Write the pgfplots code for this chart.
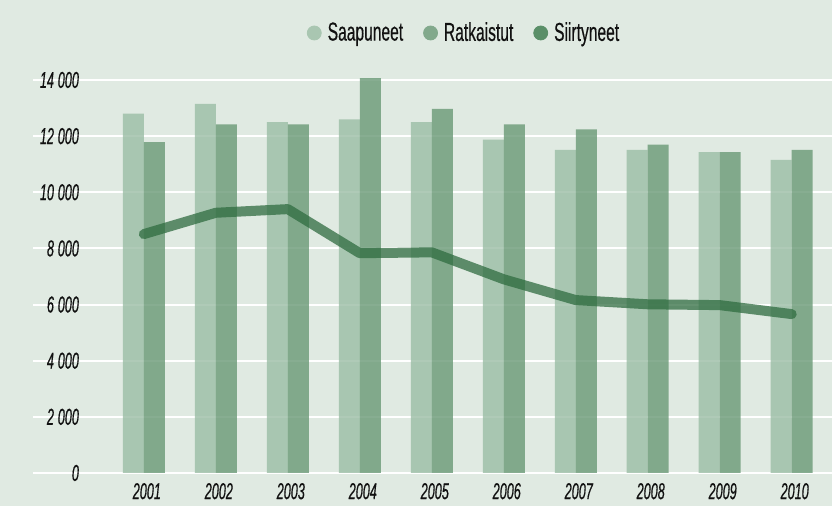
\documentclass[border=0pt]{standalone}
\usepackage{fontspec}
\setmainfont{Liberation Sans}
\newfontfamily\legfont{Liberation Sans}[FakeStretch=0.6, FakeBold=0.4]
\newfontfamily\tickfont{Liberation Sans}[FakeStretch=0.55, FakeBold=0.4]
\usepackage{pgfplots}
\pgfplotsset{compat=1.18}
\usetikzlibrary{backgrounds}
\definecolor{bgc}{HTML}{E0EAE2}
\definecolor{lightbar}{HTML}{9BBDA5}
\definecolor{darkbar}{HTML}{6A9976}
\definecolor{linecol}{HTML}{2E6B3F}
\definecolor{legA}{HTML}{A9C6B1}
\definecolor{legB}{HTML}{82A98C}
\definecolor{legC}{HTML}{5A8F68}
\definecolor{txt}{HTML}{111111}

\begin{document}
\begin{tikzpicture}
\begin{axis}[
    name=main,
    width=399.5pt, height=196.5pt, scale only axis,
    xmin=-1.54, xmax=9.56, ymin=0, ymax=14000,
    clip=false,
    scaled y ticks=false,
    axis line style={draw=none},
    major tick length=0pt,
    xtick={0,...,9},
    xticklabels={2001,2002,2003,2004,2005,2006,2007,2008,2009,2010},
    ytick={0,2000,4000,6000,8000,10000,12000,14000},
    yticklabels={0,2\,000,4\,000,6\,000,8\,000,10\,000,12\,000,14\,000},
    ymajorgrids,
    major grid style={white, line width=1pt},
    yticklabel style={font=\tickfont\itshape\fontsize{11.5}{12}\selectfont, text=txt, anchor=east, xshift=26.5pt},
    xticklabel style={font=\tickfont\itshape\fontsize{11.5}{12}\selectfont, text=txt, xshift=1.5pt, yshift=-1.5pt},
    legend columns=-1,
    legend style={at={(axis description cs:0.5407,1)}, anchor=center, yshift=23.5pt,
        draw=none, fill=none, text=txt,
        font=\legfont\fontsize{13}{14}\selectfont,
        column sep=1pt,
        /tikz/every even column/.append style={column sep=8pt}},
]
\addplot[ybar, bar width=10.5pt, bar shift=-5.25pt, fill=lightbar, fill opacity=0.8, draw=none, forget plot]
    coordinates {(0,12800) (1,13150) (2,12500) (3,12600) (4,12500) (5,11880) (6,11510) (7,11510) (8,11430) (9,11150)};
\addplot[ybar, bar width=10.5pt, bar shift=5.25pt, fill=darkbar, fill opacity=0.8, draw=none, forget plot]
    coordinates {(0,11790) (1,12420) (2,12420) (3,14070) (4,12970) (5,12420) (6,12240) (7,11700) (8,11430) (9,11510)};
\addplot[linecol, line width=5pt, line cap=round, line join=round, opacity=0.74, forget plot]
    coordinates {(0,8510) (1,9270) (2,9400) (3,7830) (4,7860) (5,6900) (6,6160) (7,6010) (8,5980) (9,5660)};
\addlegendimage{legend image code/.code={\fill[legA] (0,0) circle (3.5pt);}}
\addlegendentry{Saapuneet}
\addlegendimage{legend image code/.code={\fill[legB] (0,0) circle (3.5pt);}}
\addlegendentry{Ratkaistut}
\addlegendimage{legend image code/.code={\fill[legC] (0,0) circle (3.5pt);}}
\addlegendentry{Siirtyneet}
\end{axis}
\begin{scope}[on background layer]
\fill[bgc] ([xshift=-16.5pt,yshift=-16.5pt]main.south west) rectangle ([yshift=40pt]main.north east);
\end{scope}
\pgfresetboundingbox
\path[use as bounding box] ([xshift=-16.5pt,yshift=-16.5pt]main.south west) rectangle ([yshift=40pt]main.north east);
\end{tikzpicture}
\end{document}
